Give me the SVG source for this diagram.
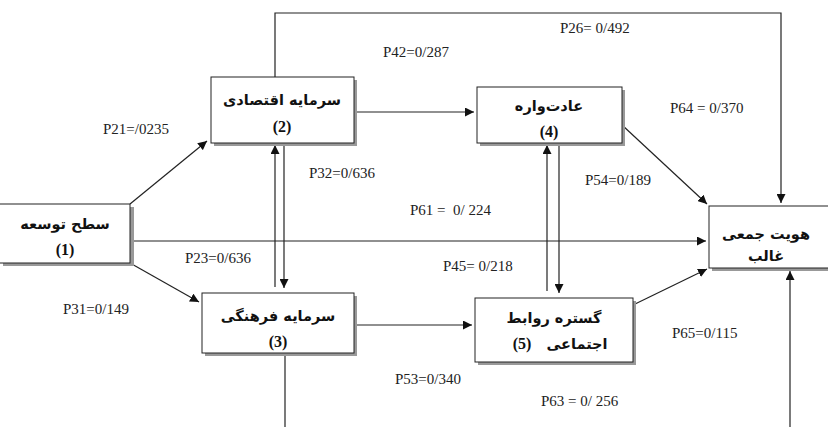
<svg xmlns="http://www.w3.org/2000/svg" width="828" height="427" viewBox="0 0 828 427">
<style>
.box{fill:#fff;stroke:#222;stroke-width:1}
.sh{fill:#999}
.fa{font-family:"DejaVu Sans","Noto Sans",sans-serif;font-size:14.5px;font-weight:bold;text-anchor:middle;fill:#111}
.num{font-family:"Liberation Serif",serif;font-size:16px;font-weight:bold;text-anchor:middle;fill:#111}
.lbl{font-family:"Liberation Serif",serif;font-size:15px;fill:#222}
.ln{fill:none;stroke:#222;stroke-width:1.2}
</style>
<defs>
<marker id="ah" viewBox="0 0 10 10" refX="10" refY="5" markerWidth="9" markerHeight="9" markerUnits="userSpaceOnUse" orient="auto">
<path d="M0,0 L10,5 L0,10 z" fill="#111"/>
</marker>
</defs>
<rect width="828" height="427" fill="#fff"/>
<g id="connectors">
<line class="ln" x1="130" y1="204" x2="207" y2="141" marker-end="url(#ah)"/>
<line class="ln" x1="130" y1="263" x2="199" y2="302" marker-end="url(#ah)"/>
<line class="ln" x1="130" y1="241" x2="706" y2="241" marker-end="url(#ah)"/>
<line class="ln" x1="275" y1="287" x2="275" y2="145" marker-end="url(#ah)"/>
<line class="ln" x1="284" y1="143" x2="284" y2="288" marker-end="url(#ah)"/>
<line class="ln" x1="354" y1="112" x2="474" y2="112" marker-end="url(#ah)"/>
<line class="ln" x1="547" y1="291" x2="547" y2="145" marker-end="url(#ah)"/>
<line class="ln" x1="559" y1="143" x2="559" y2="293" marker-end="url(#ah)"/>
<line class="ln" x1="622" y1="125" x2="707" y2="204" marker-end="url(#ah)"/>
<line class="ln" x1="354" y1="325" x2="472" y2="325" marker-end="url(#ah)"/>
<line class="ln" x1="633" y1="305" x2="707" y2="269" marker-end="url(#ah)"/>
<polyline class="ln" points="275,77 275,13 781,13 781,203" marker-end="url(#ah)"/>
<line class="ln" x1="285" y1="353" x2="285" y2="427"/>
<line class="ln" x1="790" y1="427" x2="790" y2="271" marker-end="url(#ah)"/>
</g>
<g id="n1">
<rect class="sh" x="3" y="207" width="131" height="59"/>
<rect class="box" x="-1" y="204" width="131" height="59"/>
<text class="fa" x="65" y="229">سطح  توسعه</text>
<text class="num" x="65" y="255">(1)</text>
</g>
<g id="n2">
<rect class="sh" x="214" y="80" width="143" height="66"/>
<rect class="box" x="211" y="77" width="143" height="66"/>
<text class="fa" x="282" y="105">سرمایه اقتصادی</text>
<text class="num" x="282" y="132">(2)</text>
</g>
<g id="n4">
<rect class="sh" x="480" y="90" width="145" height="56"/>
<rect class="box" x="477" y="87" width="145" height="56"/>
<text class="fa" x="549" y="111">عادت‌واره</text>
<text class="num" x="549" y="137">(4)</text>
</g>
<g id="n3">
<rect class="sh" x="205" y="296" width="152" height="60"/>
<rect class="box" x="202" y="293" width="152" height="60"/>
<text class="fa" x="278" y="321">سرمایه فرهنگی</text>
<text class="num" x="278" y="347">(3)</text>
</g>
<g id="n5">
<rect class="sh" x="478" y="301" width="158" height="64"/>
<rect class="box" x="475" y="298" width="158" height="64"/>
<text class="fa" x="554" y="323">گستره روابط</text>
<text class="num" x="522" y="349">(5)</text>
<text class="fa" x="577" y="349">اجتماعی</text>
</g>
<g id="n6">
<rect class="sh" x="712" y="209" width="120" height="62"/>
<rect class="box" x="709" y="206" width="122" height="62"/>
<text class="fa" x="766" y="239">هویت جمعی</text>
<text class="fa" x="766" y="261">غالب</text>
</g>
<g id="labels">
<text class="lbl" x="103" y="134">P21=/0235</text>
<text class="lbl" x="560" y="33">P26= 0/492</text>
<text class="lbl" x="383" y="57">P42=0/287</text>
<text class="lbl" x="670" y="113">P64 = 0/370</text>
<text class="lbl" x="309" y="178">P32=0/636</text>
<text class="lbl" x="585" y="185">P54=0/189</text>
<text class="lbl" x="410" y="215" xml:space="preserve">P61 =  0/ 224</text>
<text class="lbl" x="185" y="263">P23=0/636</text>
<text class="lbl" x="443" y="271">P45= 0/218</text>
<text class="lbl" x="63" y="314">P31=0/149</text>
<text class="lbl" x="672" y="338">P65=0/115</text>
<text class="lbl" x="395" y="384">P53=0/340</text>
<text class="lbl" x="541" y="406">P63 = 0/ 256</text>
</g>
</svg>
